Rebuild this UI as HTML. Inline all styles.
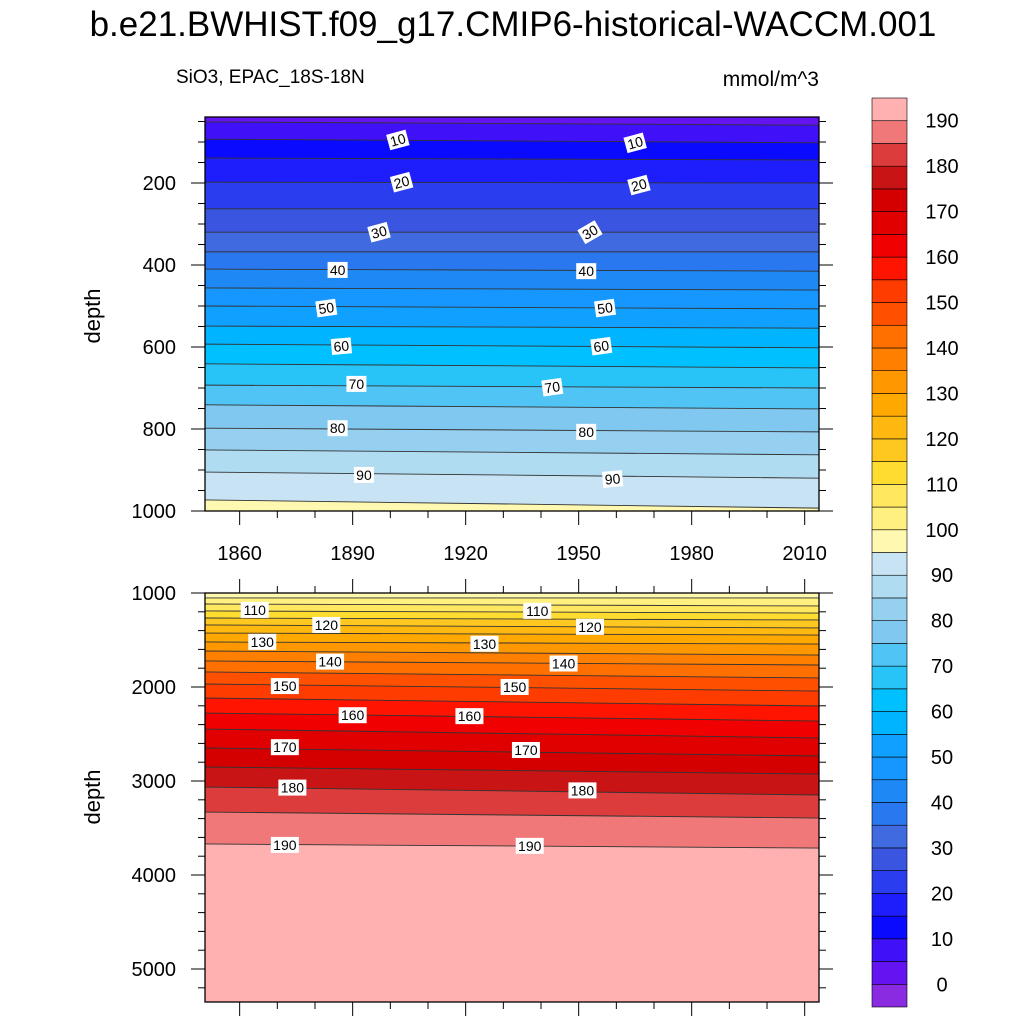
<!DOCTYPE html>
<html><head><meta charset="utf-8"><style>
body{margin:0;background:#fff;}
svg text{font-family:"Liberation Sans",sans-serif;}
</style></head><body>
<svg id="chart" width="1024" height="1024" xmlns="http://www.w3.org/2000/svg">
<text x="513" y="36" font-size="35" text-anchor="middle">b.e21.BWHIST.f09_g17.CMIP6-historical-WACCM.001</text>
<text x="176" y="83" font-size="19">SiO3, EPAC_18S-18N</text>
<text x="819" y="86" font-size="21" text-anchor="end">mmol/m^3</text>
<text transform="translate(100,316) rotate(-90)" font-size="22" text-anchor="middle">depth</text>
<text transform="translate(100,797) rotate(-90)" font-size="22" text-anchor="middle">depth</text>
<g id="top"></g><g id="bot"></g><g id="cbar"></g>
</svg>
<script>
const colors=["#8a2be2","#6414f0","#4010f8","#0a0aff","#1e1efc","#2a3ef0","#3a55e0","#3f6ae0","#2a78f0","#1e88f5","#1696ff","#10a0ff","#00b4ff","#00c0ff","#28c4f8","#50c4f4","#80c8f0","#96d0f0","#b0dcf2","#c8e4f4","#fff8b0","#fff080","#ffe860","#ffdc30","#ffc820","#ffb810","#ffa800","#ff9800","#ff8000","#ff7000","#ff5000","#ff3c00","#ff1400","#f00000","#e00000","#d40000","#c81414","#dc3c3c","#f07878","#ffb0b0"];
const cbarLabels=[0,10,20,30,40,50,60,70,80,90,100,110,120,130,140,150,160,170,180,190];
const topLevels=[5,10,15,20,25,30,35,40,45,50,55,60,65,70,75,80,85,90,95];
const topDepthStart=[51,93,139,198,263,320,368,410,456,500,549,593,641,693,741,798,851,905,973];
const topDepthEnd=[59,102,144,200,263,320,368,415,461,507,554,602,651,700,751,807,863,920,993];
const botLevels=[100,105,110,115,120,125,130,135,140,145,150,155,160,165,170,175,180,185,190];
const botDepthStart=[1053,1117,1191,1266,1340,1426,1521,1617,1723,1840,1968,2117,2277,2447,2649,2851,3064,3330,3670];
const botDepthEnd=[1053,1138,1213,1287,1372,1447,1543,1660,1766,1904,2043,2202,2362,2543,2734,2926,3149,3394,3713];
const topLabels=[[10,1902,95,-15],[10,1965,102,-15],[20,1903,198,-15],[20,1966,205,-15],[30,1897,320,-15],[30,1953,320,-30],[40,1886,412,0],[40,1952,415,0],[50,1883,505,-8],[50,1957,505,-8],[60,1887,598,-5],[60,1956,598,-8],[70,1891,690,0],[70,1943,698,-8],[80,1886,798,0],[80,1952,807,0],[90,1893,912,0],[90,1959,922,-5]];
const botLabels=[[110,1864,1180],[110,1939,1190],[120,1883,1340],[120,1953,1360],[130,1866,1520],[130,1925,1540],[140,1884,1730],[140,1946,1750],[150,1872,1990],[150,1933,2000],[160,1890,2300],[160,1921,2310],[170,1872,2640],[170,1936,2670],[180,1874,3070],[180,1951,3100],[190,1872,3680],[190,1937,3690]];
const xTicks=[1860,1890,1920,1950,1980,2010];
const NS="http://www.w3.org/2000/svg";
function mk(p,t,a){const e=document.createElementNS(NS,t);for(const k in a)e.setAttribute(k,a[k]);p.appendChild(e);return e;}
const X0=205,X1=819,yr0=1850.8,yr1=2013.8;
const xs=v=>X0+(v-yr0)/(yr1-yr0)*(X1-X0);
function panel(g,name,Y0,Y1,d0,d1,levels,ds,de,firstIdx,labels,majors,minorStep,labelMode,topTicks){
  const ys=d=>Y0+(d-d0)/(d1-d0)*(Y1-Y0);
  const clipId=name+"-clip";
  const cp=mk(g,"clipPath",{id:clipId});mk(cp,"rect",{x:X0,y:Y0,width:X1-X0,height:Y1-Y0});
  const cg=mk(g,"g",{"clip-path":"url(#"+clipId+")"});
  let r=mk(cg,"rect",{x:X0,y:Y0,width:X1-X0,height:Y1-Y0,fill:colors[firstIdx]});
  
  
  for(let i=0;i<levels.length;i++){
    const a=ys(ds[i]),b=ys(de[i]);
    let p=mk(cg,"polygon",{points:`${X0},${a} ${X1},${b} ${X1},${Y1+5} ${X0},${Y1+5}`,fill:colors[firstIdx+i+1]});
    
    
  }
  for(let i=0;i<levels.length;i++){
    let l=mk(cg,"line",{x1:X0,y1:ys(ds[i]),x2:X1,y2:ys(de[i]),stroke:"#333",'stroke-width':0.9});
    
    
  }
  labels.forEach(L=>{
    const x=xs(L[1]),y=ys(L[2]),rot=L[3]||0;
    const lg=mk(g,"g",{transform:`translate(${x},${y}) rotate(${rot})`});
    
    
    const w=L[0]>=100?28:20;
    mk(lg,"rect",{x:-w/2,y:-8,width:w,height:16,fill:"#fff"});
    const t=mk(lg,"text",{x:0,y:5,'font-size':14,'text-anchor':'middle'});t.textContent=L[0];
  });
  let fr=mk(g,"rect",{x:X0,y:Y0,width:X1-X0,height:Y1-Y0,fill:"none",stroke:"#000",'stroke-width':1.3});
  
  
  for(let d=Math.ceil(d0/minorStep)*minorStep;d<=d1;d+=minorStep){
    const y=ys(d),maj=majors.includes(d),len=maj?14:7;
    mk(g,"line",{x1:X0-len,y1:y,x2:X0,y2:y,stroke:"#000",'stroke-width':1});
    mk(g,"line",{x1:X1,y1:y,x2:X1+len,y2:y,stroke:"#000",'stroke-width':1});
    if(maj){const t=mk(g,"text",{x:176,y:y+7,'font-size':20,'text-anchor':'end'});t.textContent=d;
      
      }
  }
  for(let v=1860;v<=2010;v+=10){
    const x=xs(v),maj=xTicks.includes(v),len=maj?14:7;
    mk(g,"line",{x1:x,y1:Y1,x2:x,y2:Y1+len,stroke:"#000",'stroke-width':1});
    if(topTicks)mk(g,"line",{x1:x,y1:Y0-len,x2:x,y2:Y0,stroke:"#000",'stroke-width':1});
    if(labelMode&&maj){const t=mk(g,"text",{x:x,y:Y1+49,'font-size':20,'text-anchor':'middle'});t.textContent=v;
      
      }
  }
}
const gt=document.getElementById('top');


panel(gt,"top",117,511,39,1000,topLevels,topDepthStart,topDepthEnd,1,topLabels,[200,400,600,800,1000],50,true,false);
const gb=document.getElementById('bot');


panel(gb,"bottom",593,1002,1000,5351,botLevels,botDepthStart,botDepthEnd,20,botLabels,[1000,2000,3000,4000,5000],200,false,true);
const cb=document.getElementById('cbar');


const CB0=98,CB1=1007,bh=(CB1-CB0)/colors.length;
colors.forEach((c,i)=>{
  const r=mk(cb,"rect",{x:872,y:CB1-(i+1)*bh,width:35,height:bh,fill:c,stroke:"#000",'stroke-width':0.6});
  
  
});
cbarLabels.forEach(v=>{
  const i=v/5+1,y=CB1-i*bh;
  const t=mk(cb,"text",{x:942,y:y+7,'font-size':20,'text-anchor':'middle'});t.textContent=v;
  
  
});
</script>
</body></html>
